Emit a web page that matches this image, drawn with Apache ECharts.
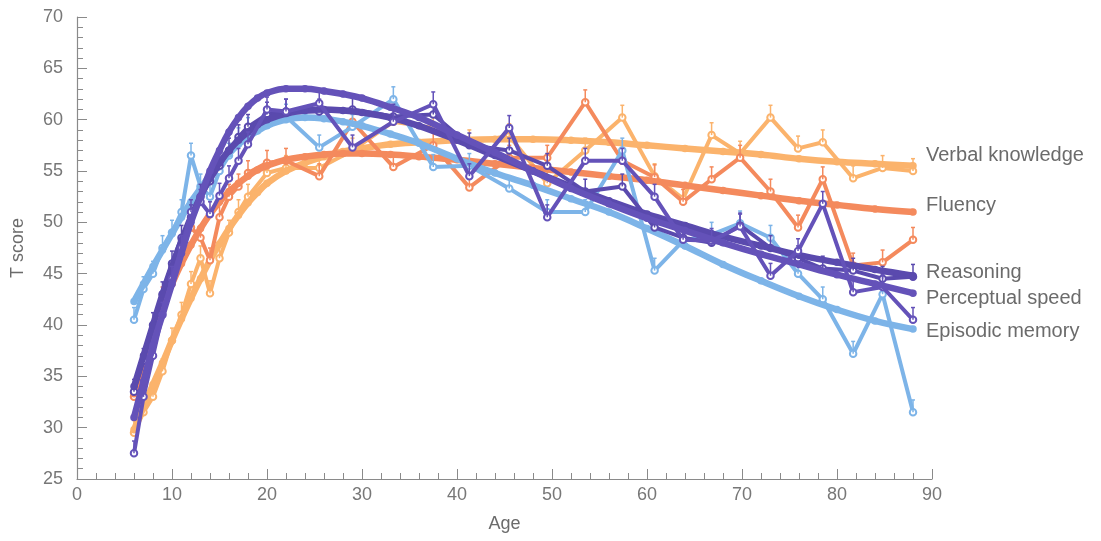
<!DOCTYPE html>
<html>
<head>
<meta charset="utf-8">
<script src="https://cdn.jsdelivr.net/npm/echarts@6/dist/echarts.min.js"></script>
<style>
html,body{margin:0;padding:0;background:#fff;}
#chart{width:1101px;height:541px;}
</style>
</head>
<body>
<div id="chart"></div>
<script>
// ---- Data ----
const rawAges = [6,7,8,9,10,11,12,13,14,15,16,17,18,20,22,25.5,29,33.3,37.5,41.3,45.5,49.5,53.5,57.4,60.8,63.8,66.8,69.8,73,75.9,78.5,81.7,84.8,88];
const fitAges = [6,7,8,9,10,11,12,13,14,15,16,17,18,19,20,22,24,26,28,30,33,36,40,44,48,52,56,60,64,68,72,76,80,84,88];

const verbalRaw     = [29.5,31.5,33,35.5,38.5,41,44,46.5,43.1,46.5,49,51,52.5,54.8,55.3,55.3,57,59.8,59.2,57.8,58.4,53.8,57,60.2,54.5,52.3,58.5,56.7,60.2,57.2,57.8,54.3,55.3,55];
const fluencyRaw    = [33,35.5,39,42.5,44.5,47.5,49.5,48.5,46.3,50.5,52.5,53.5,54.8,55.8,56,54.5,59.8,55.4,57.5,53.4,56.3,56.3,61.7,56,54.4,52,54.2,56.3,53,49.5,54.2,45.8,46.1,48.3];
const reasoningRaw  = [33.5,36.5,40,43,46,48.5,50.5,52.5,54,55.5,57,58.3,59.3,60.5,60.8,60.8,61,60.3,60.5,57.5,57,55.5,53,53.5,49.5,48.5,48,49.7,47.5,46.5,45.5,45.3,44.5,44.7];
const perceptualRaw = [27.5,33,37,41,44.5,47.5,51,52,50.8,52.6,54.3,56,57.6,61,60.8,61.6,57.3,59.8,61.5,54.5,59.2,50.5,56,56,52.5,48.3,48.2,49.6,44.8,47.2,51.8,43.2,43.7,40.5];
const episodicRaw   = [40.5,43.5,45,47.5,49,51,56.5,53.5,52.5,55,56.5,58,59,60,60.3,57.3,59.3,62,55.4,55.5,53.3,51,51,57,45.3,48.2,48.8,49.9,48.5,45,42.5,37.2,43,31.5];

const verbalFit     = [29.8,32,34.2,36.3,38.5,40.6,42.6,44.5,46.3,47.9,49.4,50.7,51.9,52.9,53.8,55,55.8,56.4,56.9,57.2,57.6,57.8,58,58.1,58.1,58,57.8,57.5,57.2,56.9,56.6,56.2,55.9,55.7,55.5];
const fluencyFit    = [33.3,36.5,39.3,41.8,44,46,47.8,49.4,50.8,52,53,53.8,54.5,55.1,55.5,56.1,56.4,56.6,56.7,56.7,56.6,56.4,56.1,55.7,55.3,54.9,54.5,54.1,53.6,53.1,52.6,52.1,51.7,51.3,51];
const reasoningFit  = [34,37,40,43,45.7,48.2,50.5,52.5,54.3,55.8,57,58,58.8,59.5,60,60.6,60.9,61,60.9,60.7,60.2,59.4,58,56.5,55,53.5,52.1,50.8,49.7,48.6,47.7,46.8,46.1,45.4,44.8];
const perceptualFit = [31,34.5,38,41,44,47,50,52.5,55,57,58.8,60.2,61.3,62.1,62.6,63,63,62.8,62.5,62.1,61.2,60.2,58.5,56.8,55,53.3,51.8,50.4,49.2,48,46.9,45.9,44.9,44,43.1];
const episodicFit   = [42.3,44,45.7,47.3,48.9,50.5,52,53.3,54.6,55.7,56.7,57.6,58.3,58.9,59.4,60,60.2,60.1,59.8,59.4,58.6,57.7,56.2,54.8,53.6,52.3,51,49.4,47.7,45.9,44.3,42.8,41.5,40.4,39.6];

const errorUp = 1.2; // visible upper half of error bars (T units)

const seriesNames = ['Verbal knowledge','Fluency','Episodic memory','Reasoning','Perceptual speed'];
const xTicks = [0,10,20,30,40,50,60,70,80,90];
const yTicks = [25,30,35,40,45,50,55,60,65,70];

// ---- Chart ----
const colors = {
  'Verbal knowledge':'#fbb36c',
  'Fluency':'#f48a5d',
  'Episodic memory':'#7db4e8',
  'Reasoning':'#5a4aae',
  'Perceptual speed':'#6452b9'
};
const rawMap = {
  'Verbal knowledge':verbalRaw,'Fluency':fluencyRaw,'Episodic memory':episodicRaw,
  'Reasoning':reasoningRaw,'Perceptual speed':perceptualRaw
};
const fitMap = {
  'Verbal knowledge':verbalFit,'Fluency':fluencyFit,'Episodic memory':episodicFit,
  'Reasoning':reasoningFit,'Perceptual speed':perceptualFit
};
const zip = (a,b)=>a.map((v,i)=>[v,b[i]]);

const series = [];
seriesNames.forEach((name,k)=>{
  const c = colors[name];
  series.push({
    type:'line', name:name+' raw', data:zip(rawAges,rawMap[name]),
    lineStyle:{color:c,width:4}, itemStyle:{color:c,borderColor:c,borderWidth:1.6},
    symbol:'emptyCircle', symbolSize:6.5, showAllSymbol:true, z:2+k*3, silent:true
  });
  series.push({
    type:'custom', name:name+' err', data:zip(rawAges,rawMap[name]), z:3+k*3, silent:true,
    renderItem:function(params,api){
      const x=api.value(0), y=api.value(1);
      const p0=api.coord([x,y]), p1=api.coord([x,y+errorUp]);
      return {type:'group',children:[
        {type:'line',shape:{x1:p0[0],y1:p0[1],x2:p1[0],y2:p1[1]},style:{stroke:c,lineWidth:1.5}},
        {type:'line',shape:{x1:p1[0]-2,y1:p1[1],x2:p1[0]+2,y2:p1[1]},style:{stroke:c,lineWidth:1.5}}
      ]};
    }
  });
  series.push({
    type:'line', name:name, data:zip(fitAges,fitMap[name]), smooth:0.4,
    lineStyle:{color:c,width:6.5}, itemStyle:{color:c},
    symbol:'circle', symbolSize:7.5, showAllSymbol:true, z:4+k*3, silent:true
  });
});

const labelPos = {
  'Verbal knowledge':155,'Fluency':205,'Reasoning':272,'Perceptual speed':298,'Episodic memory':331
};
const graphic = seriesNames.map(n=>({
  type:'text', x:926, y:labelPos[n],
  style:{text:n, fill:'#6b6b6b', font:'20px "Liberation Sans", Arial, sans-serif',
         verticalAlign:'middle', textVerticalAlign:'middle'}
}));

const chart = echarts.init(document.getElementById('chart'),null,{renderer:'canvas'});
chart.setOption({
  animation:false,
  backgroundColor:'#ffffff',
  grid:{left:77,right:169,top:17,bottom:62,containLabel:false},
  xAxis:{
    type:'value', min:xTicks[0], max:xTicks[xTicks.length-1], interval:10,
    name:'Age', nameLocation:'middle', nameGap:36,
    nameTextStyle:{color:'#6b6b6b',fontSize:18,fontFamily:'Liberation Sans'},
    axisLine:{show:true,lineStyle:{color:'#8a8a8a',width:1.2}},
    axisTick:{show:true,inside:true,length:10,lineStyle:{color:'#8a8a8a'}},
    minorTick:{show:true,splitNumber:5,length:6,lineStyle:{color:'#8a8a8a'}},
    axisLabel:{color:'#777',fontSize:18,margin:7,fontFamily:'Liberation Sans'},
    splitLine:{show:false}
  },
  yAxis:{
    type:'value', min:yTicks[0], max:yTicks[yTicks.length-1], interval:5,
    name:'T score', nameLocation:'middle', nameGap:50, nameRotate:90,
    nameTextStyle:{color:'#6b6b6b',fontSize:18,fontFamily:'Liberation Sans'},
    axisLine:{show:true,lineStyle:{color:'#8a8a8a',width:1.2}},
    axisTick:{show:true,inside:true,length:10,lineStyle:{color:'#8a8a8a'}},
    minorTick:{show:true,splitNumber:5,length:6,lineStyle:{color:'#8a8a8a'}},
    axisLabel:{color:'#777',fontSize:18,margin:14,fontFamily:'Liberation Sans'},
    splitLine:{show:false}
  },
  graphic:graphic,
  series:series
});
</script>
</body>
</html>
